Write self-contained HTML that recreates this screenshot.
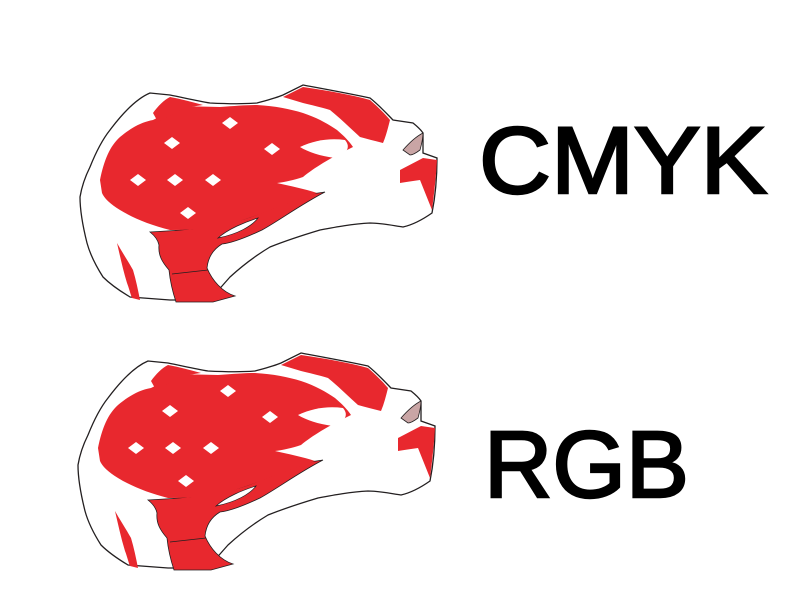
<!DOCTYPE html>
<html><head><meta charset="utf-8"><style>
html,body{margin:0;padding:0;background:#fff;}
svg{display:block;}
text{font-family:"Liberation Sans",Arial,sans-serif;}
</style></head><body>
<svg width="800" height="600" viewBox="0 0 800 600">
<defs>
<g id="steak">
<path fill="#fff" stroke="#231f20" stroke-width="1.3" d="M80,197 C82,185 86,175 90,167 C96,152 102,140 110,130 C125,110 138,98 150,93 L170,95 C185,98 198,101 210,103 C230,104 245,104 257,103 C268,100 276,98 283,95 L303,85 C330,90 352,94 370,98 C380,106 388,115 393,120 L413,123 C418,127 421,130 423,133 L423,153 L437,158 C437,178 435,198 432,213 C422,220 412,225 403,227 C390,225 380,223 370,223 C352,224 336,227 320,230 C300,236 285,241 270,247 C255,256 242,266 230,277 C222,286 215,294 210,300 L170,300 C155,299 142,298 130,297 C120,291 110,284 103,277 C96,266 90,254 87,243 C83,227 80,212 80,197 Z"/>
<path fill="#e8282e" stroke="#231f20" stroke-width="0.8" d="M150,232 C190,230 230,226 258,214 C275,207 290,200 305,195 L325,192 C300,205 280,220 262,230 C245,238 232,243 222,244 C212,250 208,258 207,268 C212,280 222,292 235,296 L213,302 L176,302 C172,290 170,280 169,270 C162,262 158,255 159,245 C158,240 155,236 150,232 Z"/>
<path fill="#fff" stroke="#231f20" stroke-width="0.7" d="M218,238 C228,229 245,222 258,218 C252,226 238,234 218,238 Z"/>
<path fill="none" stroke="#231f20" stroke-width="0.8" d="M172,274 L208,270"/>
<path fill="#e8282e" d="M100,180 C104,160 110,146 120,137 C132,127 142,122 153,120 C165,114 176,109 187,107 C200,106 210,107 220,107 C235,106 246,105 257,105 C275,106 290,109 303,113 C318,118 328,124 337,130 C344,136 349,141 353,147 C343,152 333,157 323,163 C315,168 309,172 303,177 C294,180 285,182 277,183 C290,186 305,189 317,193 C300,199 285,204 270,210 C253,217 237,222 220,227 C203,229 187,230 170,230 C150,225 133,218 120,210 C110,204 104,198 102,193 Z"/>
<path fill="#e8282e" d="M283,97 L303,87 C330,91 352,95 370,100 C378,107 385,114 390,120 C388,128 386,136 383,143 C375,141 367,139 360,137 C350,128 340,118 330,110 C320,107 311,105 303,103 Z"/>
<path fill="#e8282e" d="M423,158 L437,160 C436,177 434,194 432,210 C428,200 424,190 420,180 C413,181 406,182 400,183 L400,170 Z"/>
<path fill="#e8282e" d="M117,243 C122,252 128,261 133,270 C136,280 138,290 140,300 L132,298 C130,293 129,288 127,283 C123,270 120,256 117,243 Z"/>
<path fill="#e8282e" d="M153,113 C158,106 164,100 170,97 C181,99 192,102 203,105 C195,106 187,108 180,110 C172,115 165,118 158,122 Z"/>
<path fill="#fff" d="M300,147 C315,140 330,138 345,140 C352,148 345,155 335,158 C320,156 308,152 300,147 Z"/>
<path fill="#c9a5a5" stroke="#231f20" stroke-width="0.8" d="M403,150 C410,142 417,136 423,133 C423,140 421,146 420,150 C416,153 412,155 410,155 Z"/>
<g fill="#fff">
<path d="M230,117 l8,6 -8,6 -8,-6 Z"/><path d="M172,137 l8,6 -8,6 -8,-6 Z"/><path d="M272,143 l8,6 -8,6 -8,-6 Z"/><path d="M138,174 l8,6 -8,6 -8,-6 Z"/><path d="M175,174 l8,6 -8,6 -8,-6 Z"/><path d="M213,174 l8,6 -8,6 -8,-6 Z"/><path d="M188,207 l8,6 -8,6 -8,-6 Z"/>
</g>
</g>
</defs>
<use href="#steak"/>
<use href="#steak" transform="translate(-2,268)"/>
<text x="479" y="193" font-size="95" fill="#000" stroke="#000" stroke-width="2.5" textLength="288" lengthAdjust="spacingAndGlyphs">CMYK</text>
<text x="484" y="497" font-size="95" fill="#000" stroke="#000" stroke-width="2.5" textLength="205" lengthAdjust="spacingAndGlyphs">RGB</text>
</svg>
</body></html>
